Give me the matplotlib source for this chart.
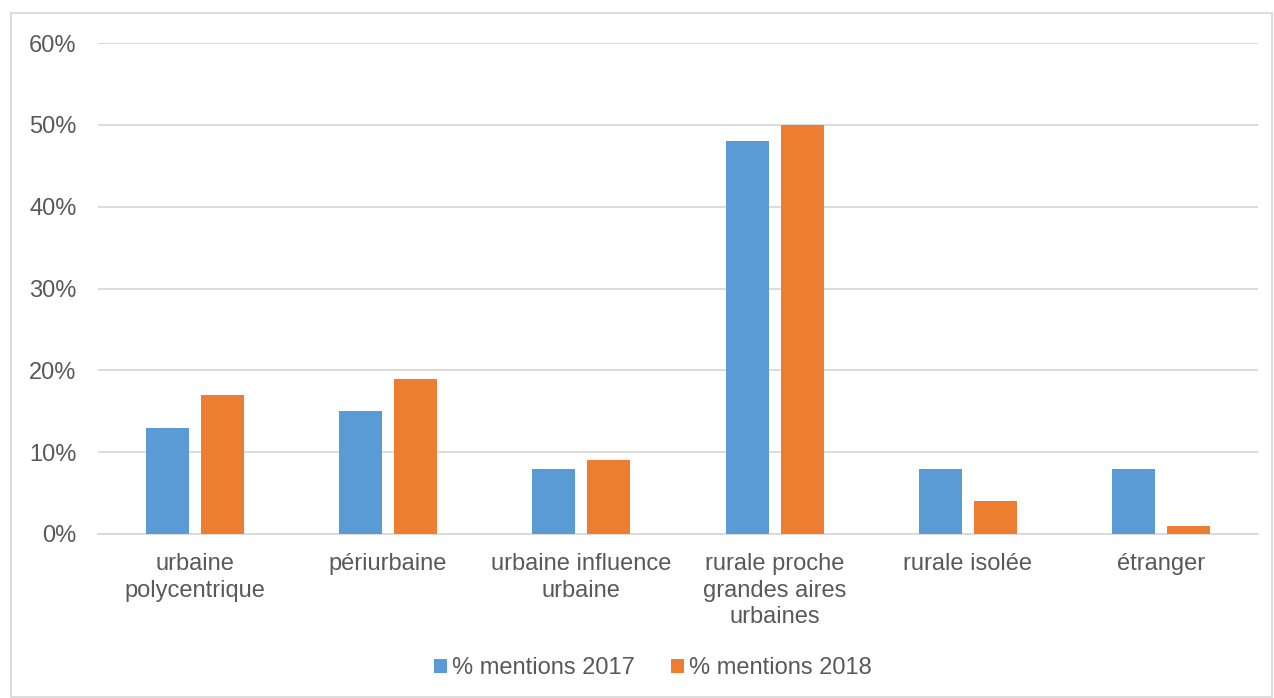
import matplotlib.pyplot as plt
import numpy as np
from matplotlib.patches import Rectangle
from matplotlib.ticker import PercentFormatter

categories = ["urbaine\npolycentrique", "périurbaine", "urbaine influence\nurbaine",
              "rurale proche\ngrandes aires\nurbaines", "rurale isolée", "étranger"]
series_names = ["% mentions 2017", "% mentions 2018"]
values_2017 = [13, 15, 8, 48, 8, 8]
values_2018 = [17, 19, 9, 50, 4, 1]
yticks = [0, 10, 20, 30, 40, 50, 60]

plt.rcParams['font.family'] = ['Liberation Sans', 'DejaVu Sans']
W, H = 1274, 698
fig = plt.figure(figsize=(W / 100, H / 100), dpi=100)
ax = fig.add_axes([98 / W, 1 - 534 / H, (1258 - 98) / W, (534 - 43) / H])

x = np.arange(len(categories))
bw = 0.222
off = 0.142
ax.bar(x - off, values_2017, bw, color='#5B9BD5', label=series_names[0], zorder=3)
ax.bar(x + off, values_2018, bw, color='#ED7D31', label=series_names[1], zorder=3)

ax.set_xlim(-0.5, len(categories) - 0.5)
ax.set_ylim(0, 60)
ax.set_yticks(yticks)
ax.yaxis.set_major_formatter(PercentFormatter(decimals=0))
ax.grid(axis='y', color='#D9D9D9', linewidth=1.3, zorder=0)
for s in ['top', 'right', 'left']:
    ax.spines[s].set_visible(False)
ax.spines['bottom'].set_color('#D9D9D9')
ax.spines['bottom'].set_linewidth(1.3)
ax.tick_params(axis='both', length=0, labelsize=17, colors='#595959')
ax.tick_params(axis='y', pad=15.5)
ax.tick_params(axis='x', pad=14)
ax.set_xticks(x)
ax.set_xticklabels(categories, linespacing=1.25)

leg = fig.legend(loc='center', bbox_to_anchor=(653 / W, 1 - 668 / H), ncol=2, frameon=False,
                 fontsize=17, handlelength=0.55, handleheight=0.55, handletextpad=0.2,
                 columnspacing=1.55, labelcolor='#595959')

fig.patches.append(Rectangle((11 / W, 1 - 697 / H), (1272 - 11) / W, (697 - 13) / H,
                             transform=fig.transFigure, fill=False, edgecolor='#D9D9D9', linewidth=1.3))

fig.savefig('out.png', dpi=100, facecolor='white')
